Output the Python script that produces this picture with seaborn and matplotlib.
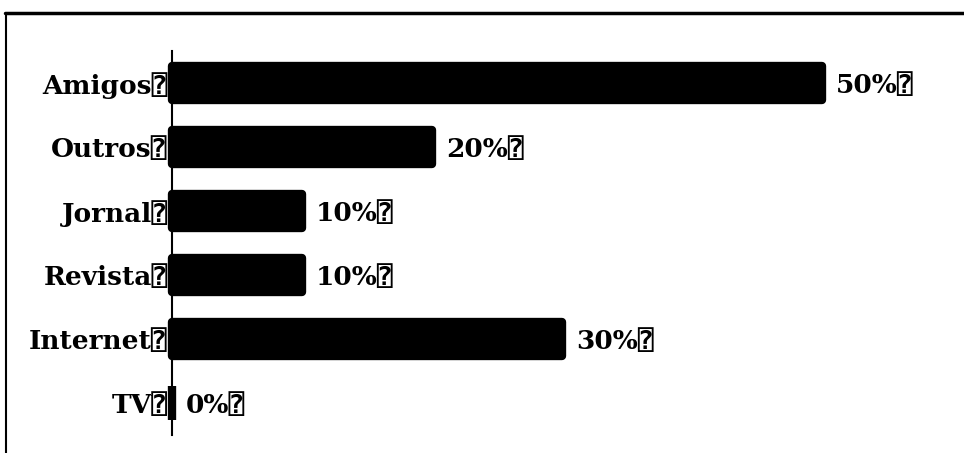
import matplotlib
matplotlib.use("Agg")
import matplotlib.pyplot as plt
from matplotlib.lines import Line2D
import seaborn as sns
import pandas as pd

categories = ["Amigos", "Outros", "Jornal", "Revista", "Internet", "TV"]
values = [50, 20, 10, 10, 30, 0]
value_labels = ["50%", "20%", "10%", "10%", "30%", "0%"]

box = "\u2370"  # missing-glyph box shown after every label
fonts = ["DejaVu Serif", "DejaVu Sans", "DejaVu Sans Mono"]

sns.set_style("white")
plt.rcParams["font.family"] = fonts
plt.rcParams["text.color"] = "black"
plt.rcParams["ytick.color"] = "black"

df = pd.DataFrame({"cat": categories, "val": values})

fig = plt.figure(figsize=(9.64, 4.53), dpi=100)
ax = fig.add_axes([172 / 964, (453 - 435) / 453, 780 / 964, 384 / 453])

sns.barplot(data=df, x="val", y="cat", orient="h", color="black",
            width=0.52, ax=ax, saturation=1)
for p in ax.patches:
    p.set_edgecolor("black")
    p.set_linewidth(6)
    p.set_joinstyle("round")
    p.set_clip_on(False)

ax.set_xlim(0, 60)
ax.set_ylim(5.5, -0.5)
ax.set_xlabel("")
ax.set_ylabel("")
ax.set_xticks([])
ax.set_yticks(range(len(categories)))
ax.set_yticklabels([c + box for c in categories], fontsize=19,
                   fontweight="bold", family=fonts, color="black",
                   va="center_baseline")
ax.tick_params(axis="y", length=0, pad=3)
for s in ["top", "right", "bottom"]:
    ax.spines[s].set_visible(False)
ax.spines["left"].set_color("black")
ax.spines["left"].set_linewidth(1.5)
ax.spines["left"].set_zorder(0)

for i, (v, lab) in enumerate(zip(values, value_labels)):
    ax.annotate(lab + box, (v, i), xytext=(10, 0), textcoords="offset points",
                va="center_baseline", ha="left", fontsize=19,
                fontweight="bold", family=fonts, color="black")

# frame lines of the original image (top and left only)
fig.add_artist(Line2D([5 / 964, 1], [1 - 13 / 453, 1 - 13 / 453],
                      transform=fig.transFigure, color="black", lw=2.5))
fig.add_artist(Line2D([6 / 964, 6 / 964], [0, 1 - 13 / 453],
                      transform=fig.transFigure, color="black", lw=1.5))

fig.savefig("out.png", dpi=100)
